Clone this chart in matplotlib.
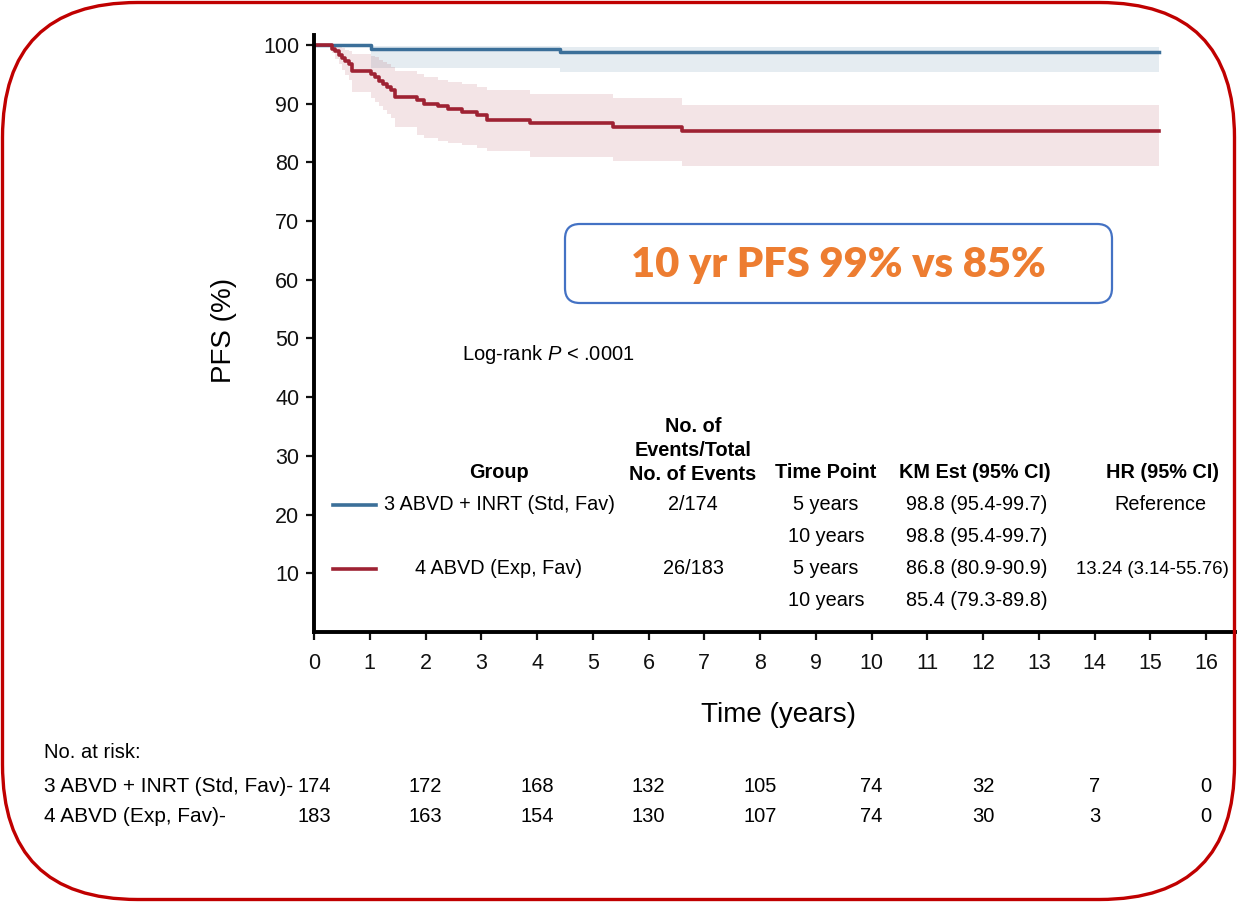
import matplotlib
matplotlib.use("Agg")
import matplotlib.pyplot as plt
import matplotlib.transforms as mtransforms
from matplotlib.patches import FancyBboxPatch
from matplotlib.lines import Line2D

plt.rcParams["font.family"] = ["Liberation Sans", "DejaVu Sans"]
plt.rcParams["mathtext.fontset"] = "custom"
plt.rcParams["mathtext.rm"] = "Liberation Sans"
plt.rcParams["mathtext.it"] = "Liberation Sans:italic"

# Kaplan-Meier curves (time in years, PFS in %)
std_t = [0, 1.03, 4.41, 15.15]
std_s = [100, 99.4, 98.8, 98.8]
std_lo = [100, 96.1, 95.4, 95.4]
std_hi = [100, 99.9, 99.7, 99.7]

exp_t = [0, 0.32, 0.38, 0.44, 0.50, 0.56, 0.62, 0.68, 1.03, 1.10, 1.17, 1.24, 1.31,
         1.38, 1.45, 1.84, 1.97, 2.23, 2.41, 2.65, 2.92, 3.10, 3.87, 5.37, 6.60, 15.15]
exp_s = [100, 99.4, 98.9, 98.3, 97.8, 97.2, 96.7, 95.6, 95.0, 94.5, 93.9, 93.4, 92.8,
         92.3, 91.2, 90.6, 90.0, 89.6, 89.1, 88.6, 88.0, 87.3, 86.7, 86.1, 85.4, 85.4]
exp_lo = [100, 98.6, 97.6, 96.7, 95.8, 94.9, 94.0, 92.0, 91.0, 90.3, 89.6, 88.9, 88.2,
          87.5, 86.0, 84.6, 84.2, 83.7, 83.3, 82.9, 82.4, 82.0, 81.0, 80.2, 79.3, 79.3]
exp_hi = [100, 100, 99.9, 99.7, 99.5, 99.2, 99.0, 98.5, 98.2, 97.9, 97.5, 97.1, 96.7,
          96.3, 95.6, 95.0, 94.5, 94.1, 93.7, 93.3, 92.8, 92.3, 91.7, 90.9, 89.8, 89.8]

# numbers at risk
risk_times = [0, 2, 4, 6, 8, 10, 12, 14, 16]
risk_std = [174, 172, 168, 132, 105, 74, 32, 7, 0]
risk_exp = [183, 163, 154, 130, 107, 74, 30, 3, 0]

group_labels = ["3 ABVD + INRT (Std, Fav)", "4 ABVD (Exp, Fav)"]
risk_labels = ["3 ABVD + INRT (Std, Fav)-", "4 ABVD (Exp, Fav)-"]
events = ["2/174", "26/183"]
time_points = ["5 years", "10 years", "5 years", "10 years"]
km_est = ["98.8 (95.4-99.7)", "98.8 (95.4-99.7)", "86.8 (80.9-90.9)", "85.4 (79.3-89.8)"]
hr = ["Reference", "", "13.24 (3.14-55.76)", ""]

blue = "#3b6f99"
red = "#9e2233"

W, H = 1237, 902
fig = plt.figure(figsize=(W / 100, H / 100), dpi=100)


def px(x, y):
    return x / W, 1 - y / H


ax = fig.add_axes([314 / W, 1 - 632 / H, 921 / W, 597 / H])
ax.fill_between(std_t, std_lo, std_hi, step="post", color=blue, alpha=0.13, lw=0)
ax.fill_between(exp_t, exp_lo, exp_hi, step="post", color=red, alpha=0.12, lw=0)
ax.step(std_t, std_s, where="post", color=blue, lw=2.5)
ax.step(exp_t, exp_s, where="post", color=red, lw=2.6)

ax.set_xlim(0, 16.52)
ax.set_ylim(0, 101.7)
ax.set_xticks(range(0, 17))
ax.set_yticks(range(10, 101, 10))
for s in ["top", "right"]:
    ax.spines[s].set_visible(False)
for s in ["left", "bottom"]:
    ax.spines[s].set_linewidth(2.8)
ax.tick_params(axis="x", length=6, width=1.6, pad=9, labelsize=15.5, colors="#111111")
ax.tick_params(axis="y", length=5.5, width=1.6, pad=5, labelsize=15.5, colors="#111111")

fig.text(*px(224, 330), "PFS (%)", rotation=90, ha="center", va="center", fontsize=20)
fig.text(*px(778, 715), "Time (years)", ha="center", va="center", fontsize=20)

# summary box
bx0, by0 = px(565, 303)
bx1, by1 = px(1112, 224)
box = FancyBboxPatch((bx0, by0), bx1 - bx0, by1 - by0,
                     boxstyle="round,pad=0,rounding_size=0.012",
                     transform=fig.transFigure, fc="white", ec="#4472c4", lw=1.6,
                     mutation_aspect=W / H)
fig.add_artist(box)
fig.text(*px(838, 265), "10 yr PFS 99% vs 85%", ha="center", va="center",
         fontsize=30, fontweight="heavy", color="#ed7d31", family="Lato")

fig.text(*px(462, 355), "Log-rank $P$ < .0001", ha="left", va="center", fontsize=14.5)

# table inside the plot
fs = 14.3
hdr_y = 473
fig.text(*px(499, hdr_y), "Group", ha="center", va="center", fontsize=fs, fontweight="bold")
fig.text(*px(693, hdr_y + 11), "No. of\nEvents/Total\nNo. of Events", ha="center",
         va="bottom", ma="center", fontsize=fs, fontweight="bold", linespacing=1.35)
fig.text(*px(826, hdr_y), "Time Point", ha="center", va="center", fontsize=fs, fontweight="bold")
fig.text(*px(975, hdr_y), "KM Est (95% CI)", ha="center", va="center", fontsize=fs, fontweight="bold")
fig.text(*px(1162, hdr_y), "HR (95% CI)", ha="center", va="center", fontsize=fs, fontweight="bold")

row_y = [505, 537, 569, 601]
for i, (lab, ev, col) in enumerate(zip(group_labels, events, [blue, red])):
    y = row_y[2 * i]
    fig.text(*px(499, y), lab, ha="center", va="center", fontsize=fs)
    fig.text(*px(693, y), ev, ha="center", va="center", fontsize=fs)
    xa, ya = px(333, y)
    xb, _ = px(376, y)
    fig.add_artist(Line2D([xa, xb], [ya, ya], color=col, lw=2.6, transform=fig.transFigure))
for y, tp, km, h in zip(row_y, time_points, km_est, hr):
    fig.text(*px(826, y), tp, ha="center", va="center", fontsize=fs)
    fig.text(*px(977, y), km, ha="center", va="center", fontsize=fs)
    if h == "Reference":
        fig.text(*px(1160, y), h, ha="center", va="center", fontsize=fs)
    elif h:
        fig.text(*px(1229, y), h, ha="right", va="center", fontsize=13.4)

# numbers at risk
fig.text(*px(44, 752), "No. at risk:", ha="left", va="center", fontsize=14.5)
trans = mtransforms.blended_transform_factory(ax.transData, fig.transFigure)
for y, lab, vals in zip([787, 817], risk_labels, [risk_std, risk_exp]):
    fig.text(*px(44, y), lab, ha="left", va="center", fontsize=15)
    for t, v in zip(risk_times, vals):
        ax.text(t, 1 - y / H, str(v), transform=trans, ha="center", va="center",
                fontsize=14.5, clip_on=False)

# rounded red frame
frame = FancyBboxPatch((0.025, 0.025), W / 100 - 0.05, H / 100 - 0.05,
                       boxstyle="round,pad=0,rounding_size=1.35",
                       transform=fig.dpi_scale_trans, fc="none", ec="#c00000", lw=2.4)
fig.add_artist(frame)

fig.savefig("out.png", dpi=100)
